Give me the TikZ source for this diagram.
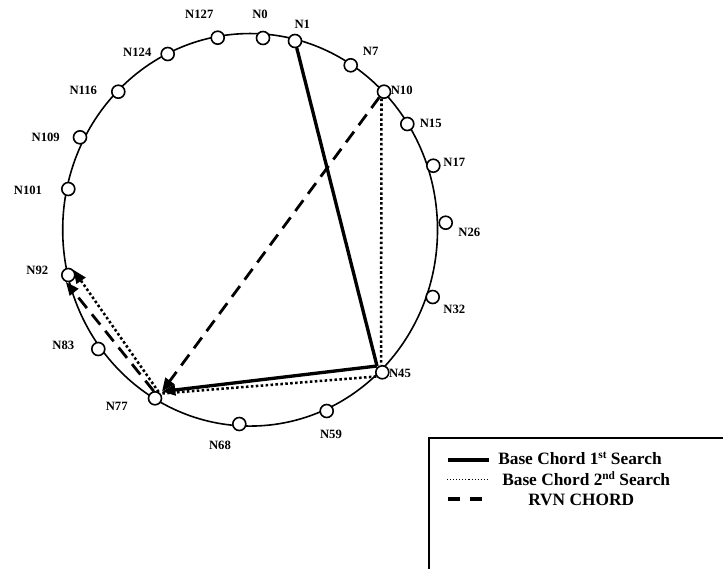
\documentclass[tikz,border=0pt]{standalone}
\usepackage{fontspec}
\setmainfont{Liberation Serif}
\usetikzlibrary{arrows.meta}
\begin{document}
\begin{tikzpicture}[x=0.75pt,y=-0.75pt,
  ring/.style={line width=1.2pt},
  peer/.style={circle,draw,fill=white,line width=1.2pt,minimum size=9.75pt,inner sep=0pt},
  lab/.style={font=\fontsize{9.5}{10}\selectfont\bfseries,inner sep=0pt},
  firstsearch/.style={line width=2.5pt},
  secondsearch/.style={line width=1.9pt,dash pattern=on 1.9pt off 1.8pt},
  rvn/.style={line width=2.1pt,dash pattern=on 10pt off 6pt},
  tip/.style={-{Triangle[length=10pt,width=8pt]}},
  legtext/.style={font=\fontsize{13}{15}\selectfont\bfseries,inner sep=0pt,anchor=base west}]
\useasboundingbox (0,0) rectangle (723,568);
\clip (0,0) rectangle (723,568);
% ring
\draw[ring] (250.1,229.8) ellipse [x radius=140.55pt, y radius=147.2pt];
% peers
\node[peer] (N0)   at (263,38) {};
\node[peer] (N1)   at (295,41) {};
\node[peer] (N7)   at (350.7,65.3) {};
\node[peer] (N10)  at (384,91.7) {};
\node[peer] (N15)  at (407.3,124) {};
\node[peer] (N17)  at (433.3,165.7) {};
\node[peer] (N26)  at (445.7,222.7) {};
\node[peer] (N32)  at (432.7,297) {};
\node[peer] (N45)  at (382.3,372.3) {};
\node[peer] (N59)  at (326.7,411) {};
\node[peer] (N68)  at (239.3,424) {};
\node[peer] (N77)  at (155,398.3) {};
\node[peer] (N83)  at (98.3,349) {};
\node[peer] (N92)  at (68.3,275) {};
\node[peer] (N101) at (68.3,189) {};
\node[peer] (N109) at (80,137.3) {};
\node[peer] (N116) at (118.3,91.7) {};
\node[peer] (N124) at (167.7,54) {};
\node[peer] (N127) at (217.7,37.7) {};
% labels
\node[lab] (L127) at (199.3,14) {N127};
\node[lab] (L0)   at (260,14) {N0};
\node[lab] (L1)   at (302.3,24) {N1};
\node[lab] (L7)   at (370.7,51.7) {N7};
\node[lab] (L10)  at (401.7,90) {N10};
\node[lab] (L15)  at (430.7,123.3) {N15};
\node[lab] (L17)  at (454.3,162.3) {N17};
\node[lab] (L26)  at (469.3,232.3) {N26};
\node[lab] (L32)  at (454.3,309) {N32};
\node[lab] (L45)  at (400,373.3) {N45};
\node[lab] (L59)  at (331,434.3) {N59};
\node[lab] (L68)  at (220,445) {N68};
\node[lab] (L77)  at (116.7,406.7) {N77};
\node[lab] (L83)  at (63.3,345.7) {N83};
\node[lab] (L92)  at (37.3,270.7) {N92};
\node[lab] (L101) at (28,190) {N101};
\node[lab] (L109) at (45.7,137.3) {N109};
\node[lab] (L116) at (83.3,90) {N116};
\node[lab] (L124) at (137.3,52.3) {N124};
% chord hubs
\coordinate (h45) at (377,366);
\coordinate (h77) at (162,391.5);
% base chord 1st search
\draw[firstsearch] (N1) -- (h45);
\draw[firstsearch,tip] (h45) -- (h77);
% base chord 2nd search
\draw[secondsearch] (N10.250) -- (N45.100);
\draw[secondsearch] (N45.215) -- (N77.40);
\draw[secondsearch,tip] (N77.60) -- (N92.45);
% RVN chord
\draw[rvn,tip] (N10.230) -- (h77);
\draw[rvn,tip] (N77.100) -- (N92.250);
% legend
\draw[line width=1.1pt] (429,438) rectangle (760,600);
\draw[firstsearch] (448,460) -- (489,460);
\draw[line width=0.8pt,dash pattern=on 0.8pt off 1.5pt] (447,479.5) -- (488,479.5);
\draw[line width=2.4pt] (448,499) -- (460,499) (470,499) -- (482,499);
\node[legtext] (T1) at (498,464.3) {Base Chord 1\raisebox{0.75ex}{\fontsize{8.5}{9}\selectfont st} Search};
\node[legtext] (T2) at (502,485) {Base Chord 2\raisebox{0.75ex}{\fontsize{8.5}{9}\selectfont nd} Search};
\node[legtext] (T3) at (528,505) {RVN CHORD};
\end{tikzpicture}
\end{document}
